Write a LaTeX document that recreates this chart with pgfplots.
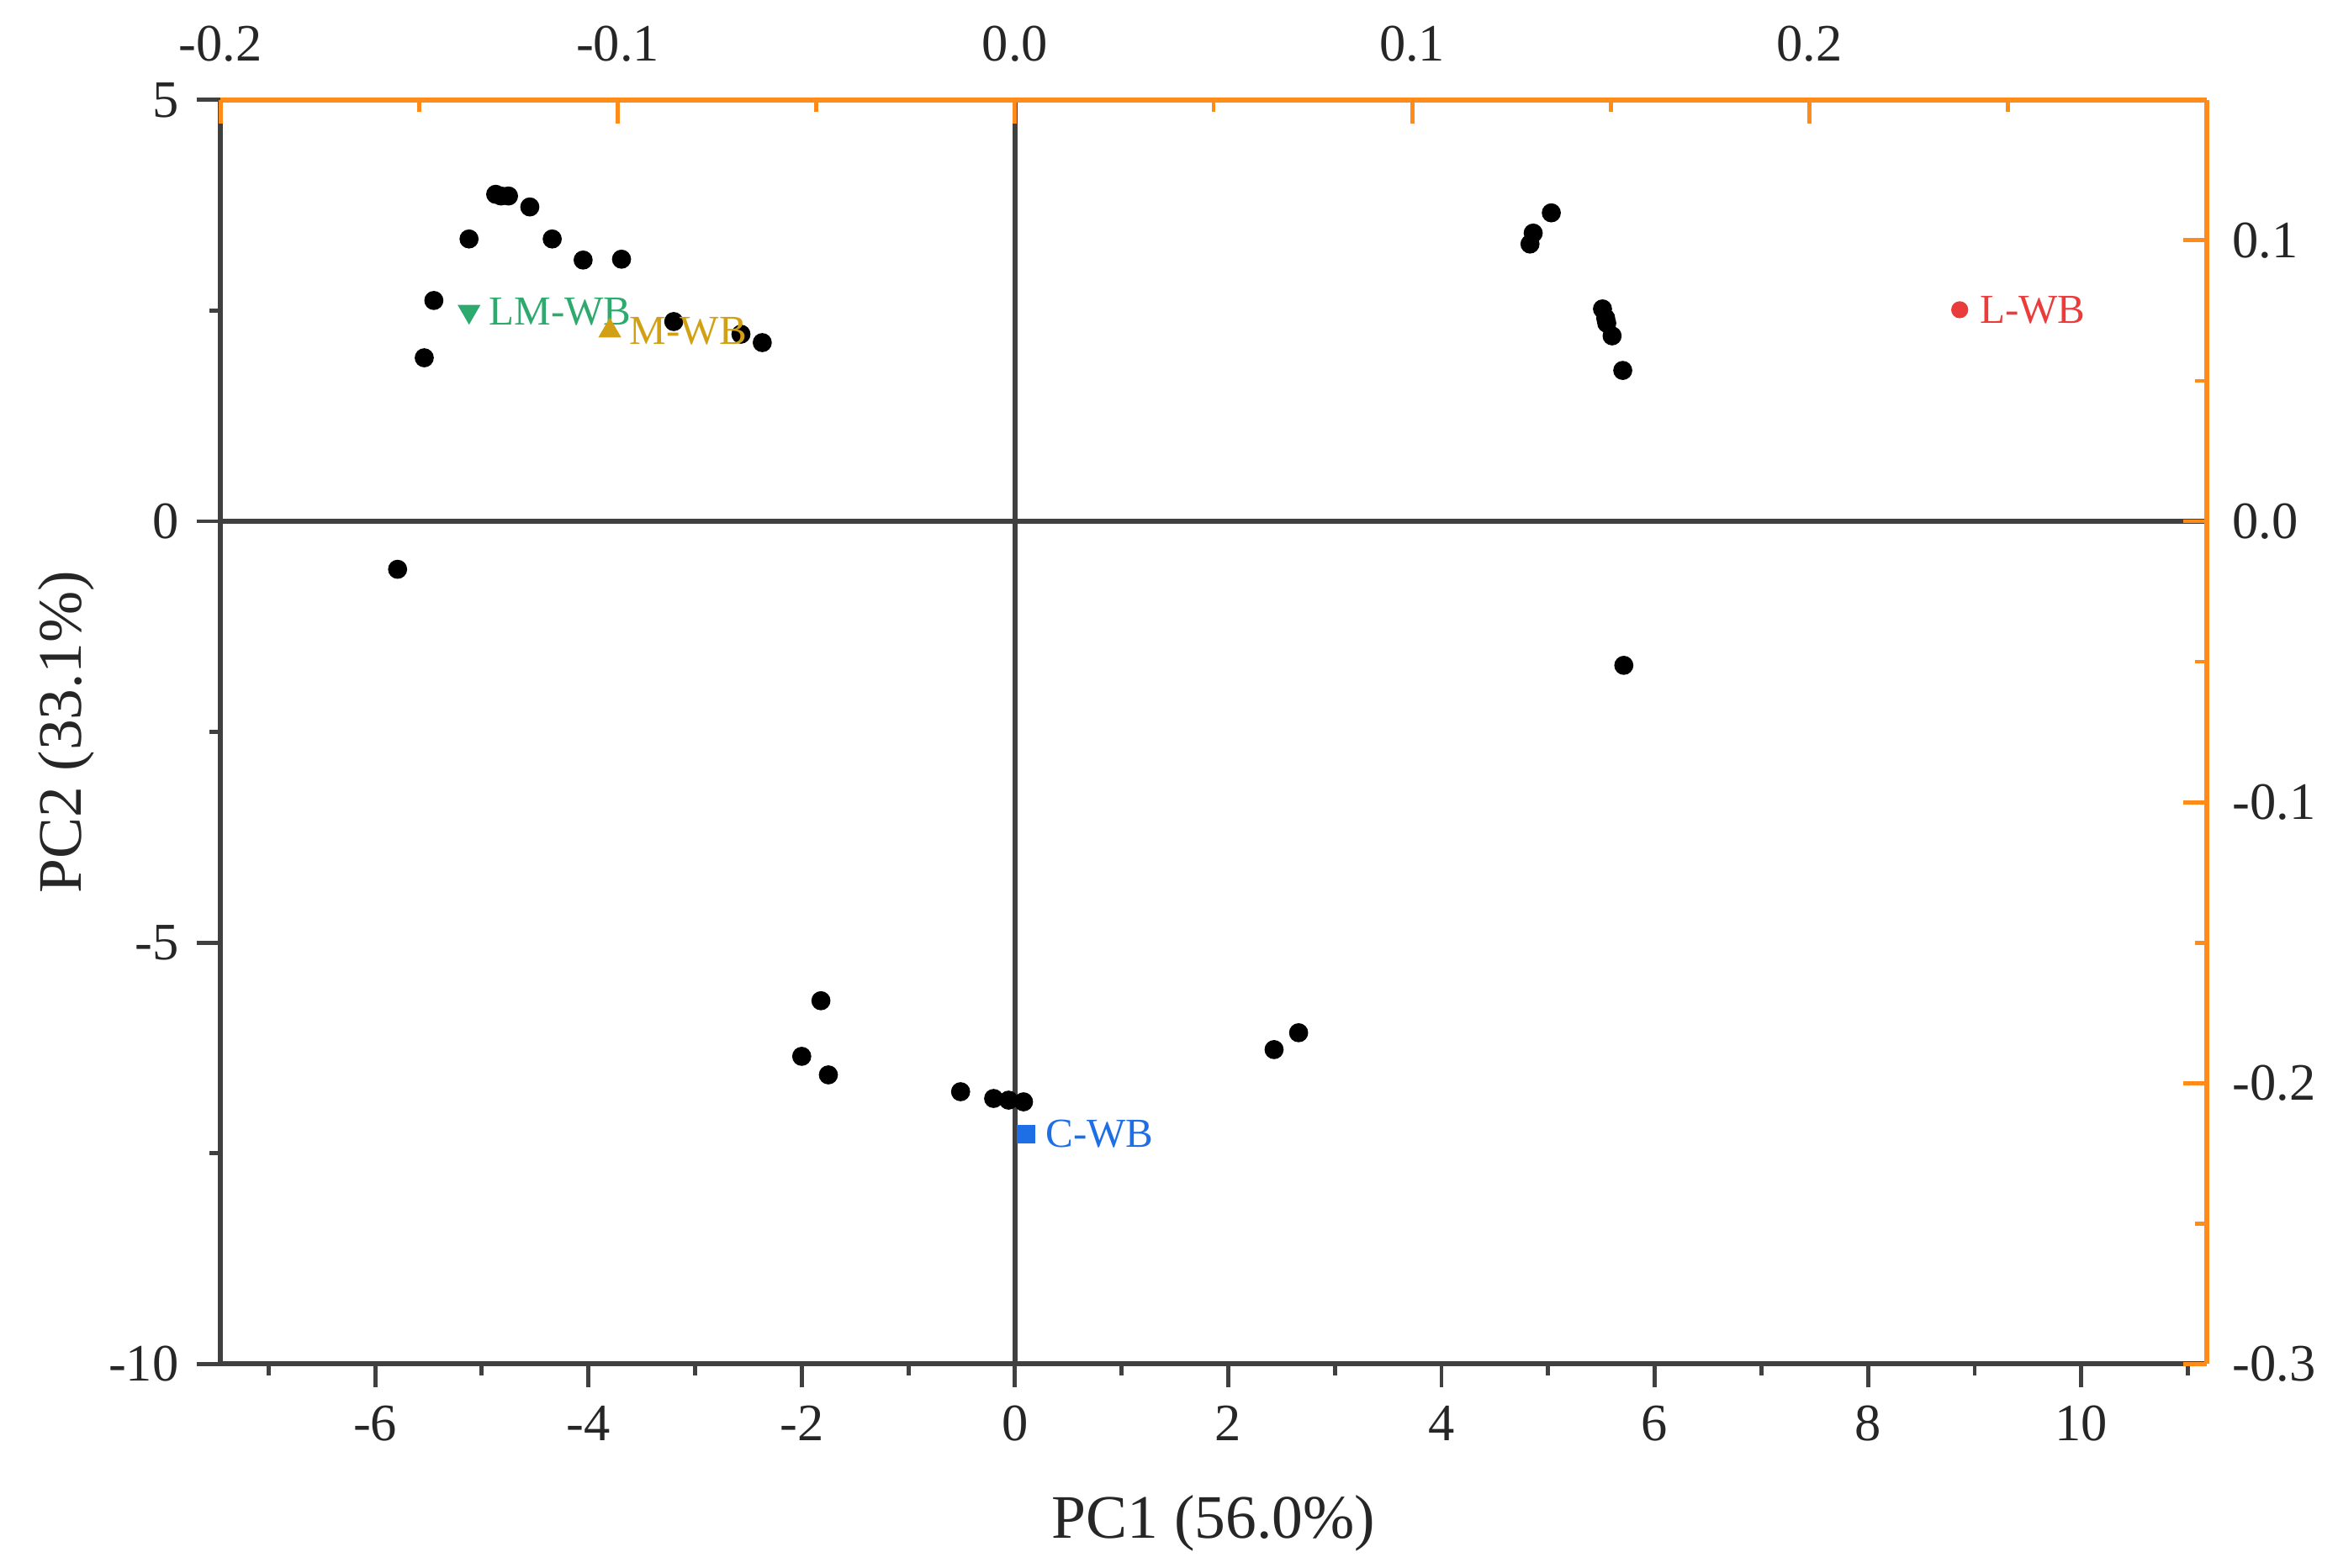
\documentclass[border=0pt]{standalone}
\usepackage{fontspec}
\setmainfont{Liberation Serif}
\usepackage{pgfplots}
\pgfplotsset{compat=1.18}
\definecolor{axorange}{RGB}{255,140,26}
\definecolor{axgray}{RGB}{64,64,64}
\definecolor{cgreen}{RGB}{46,170,110}
\definecolor{cgold}{RGB}{210,160,20}
\definecolor{cred}{RGB}{235,60,60}
\definecolor{cblue}{RGB}{30,110,230}
\begin{document}
\begin{tikzpicture}
\path[use as bounding box] (-42.8pt,-39.6pt) rectangle (410.8pt,264.7pt);
\begin{axis}[
  name=main,
  scale only axis, width=385.3pt, height=245.3pt,
  xmin=-7.45, xmax=11.175, ymin=-10, ymax=5,
  axis x line=bottom, axis y line=left,
  axis line style={-, axgray, line width=1pt},
  every outer x axis line/.append style={-},
  every outer y axis line/.append style={-},
  xtick={-6,-4,-2,0,2,4,6,8,10},
  xticklabels={-6,-4,-2,0,2,4,6,8,10},
  minor xtick={-7,-5,-3,-1,1,3,5,7,9,11},
  ytick={-10,-5,0,5}, yticklabels={-10,-5,0,5},
  minor ytick={-7.5,-2.5,2.5},
  tick align=outside,
  major tick length=4.6pt, minor tick length=2.2pt,
  tick style={axgray, line width=0.8pt},
  ticklabel style={font=\fontsize{10.2}{12}\selectfont, text=black!85},
  clip=false,
]
\addplot[axgray, line width=0.9pt] coordinates {(0,-10) (0,5)};
\addplot[axgray, line width=0.9pt] coordinates {(-7.45,0) (11.175,0)};
\addplot[only marks, mark=*, mark size=1.65pt, black] coordinates {
(-4.87,3.88) (-4.82,3.86) (-4.75,3.86) (-4.55,3.73) (-5.12,3.35) (-4.34,3.35)
(-4.05,3.10) (-3.69,3.11) (-5.45,2.62) (-5.54,1.94) (-3.20,2.37) (-2.57,2.22)
(-2.37,2.12) (-5.79,-0.57)
(5.03,3.66) (4.86,3.42) (4.83,3.29) (5.51,2.52) (5.54,2.41) (5.55,2.35)
(5.60,2.20) (5.70,1.79) (5.71,-1.71)
(-1.82,-5.69) (-2.00,-6.35) (-1.75,-6.57) (-0.51,-6.77) (-0.20,-6.85)
(-0.06,-6.87) (0.08,-6.89) (2.43,-6.27) (2.66,-6.07)
};
\addplot[only marks, mark=*, mark size=1.45pt, color=cred,
  nodes near coords={L-WB},
  every node near coord/.append style={anchor=west, inner sep=0pt, xshift=3.7pt, text=cred, font=\fontsize{8}{9}\selectfont}]
  coordinates {(8.86,2.51)};
\addplot[only marks, mark=triangle*, mark size=2.17pt, color=cgreen, mark options={rotate=180},
  nodes near coords={LM-WB},
  every node near coord/.append style={anchor=west, inner sep=0pt, xshift=3.7pt, text=cgreen, font=\fontsize{8}{9}\selectfont}]
  coordinates {(-5.12,2.49)};
\addplot[only marks, mark=triangle*, mark size=2.17pt, color=cgold,
  nodes near coords={M-WB},
  every node near coord/.append style={anchor=west, inner sep=0pt, xshift=3.7pt, text=cgold, font=\fontsize{8}{9}\selectfont}]
  coordinates {(-3.80,2.26)};
\addplot[only marks, mark=square*, mark size=1.6pt, color=cblue,
  nodes near coords={C-WB},
  every node near coord/.append style={anchor=west, inner sep=0pt, xshift=3.7pt, text=cblue, font=\fontsize{8}{9}\selectfont}]
  coordinates {(0.10,-7.27)};
\end{axis}
\begin{axis}[
  scale only axis, width=385.3pt, height=245.3pt,
  xmin=-0.2, xmax=0.3, ymin=-0.3, ymax=0.15,
  axis x line=top, axis y line=right,
  axis line style={-, axorange, line width=1pt},
  every outer x axis line/.append style={-},
  every outer y axis line/.append style={-},
  xtick={-0.2,-0.1,0,0.1,0.2}, xticklabels={-0.2,-0.1,0.0,0.1,0.2},
  minor xtick={-0.15,-0.05,0.05,0.15,0.25},
  ytick={-0.3,-0.2,-0.1,0,0.1}, yticklabels={-0.3,-0.2,-0.1,0.0,0.1},
  minor ytick={-0.25,-0.15,-0.05,0.05},
  tick align=inside,
  major tick length=4.6pt, minor tick length=2.3pt,
  tick style={axorange, line width=0.8pt},
  ticklabel style={font=\fontsize{10.2}{12}\selectfont, text=black!85},
  xticklabel style={yshift=3.9pt},
  yticklabel style={xshift=1.5pt},
]
\end{axis}
\node[rotate=90, anchor=base, font=\fontsize{12}{14}\selectfont, text=black!85] at (-27pt,122.65pt) {PC2 (33.1\%)};
\node[anchor=base, font=\fontsize{12}{14}\selectfont, text=black!85] at (192.65pt,-33.8pt) {PC1 (56.0\%)};
\end{tikzpicture}
\end{document}
